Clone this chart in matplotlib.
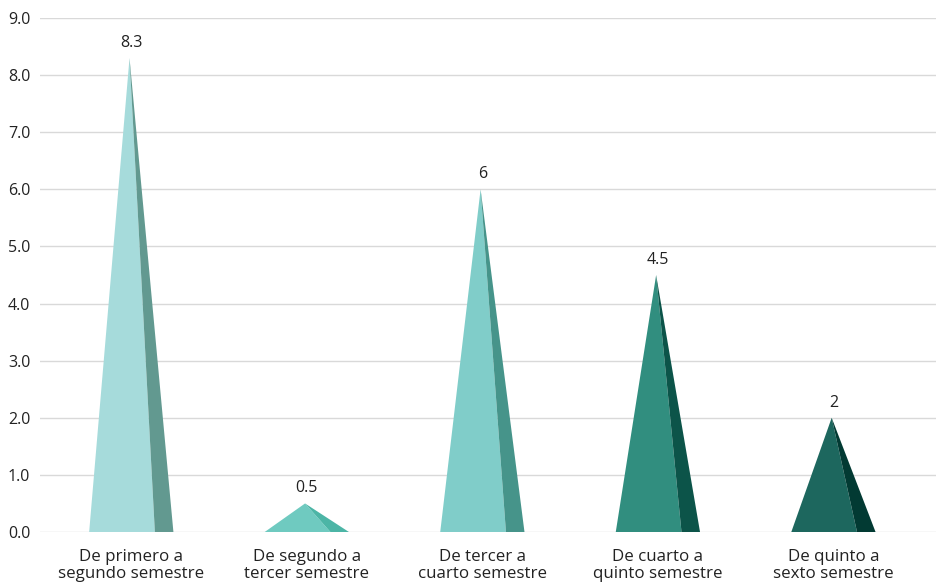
import matplotlib
matplotlib.use("Agg")
import matplotlib.pyplot as plt
from matplotlib.patches import Polygon

categories = ["De primero a\nsegundo semestre", "De segundo a\ntercer semestre",
              "De tercer a\ncuarto semestre", "De cuarto a\nquinto semestre",
              "De quinto a\nsexto semestre"]
values = [8.3, 0.5, 6, 4.5, 2]
value_labels = ["8.3", "0.5", "6", "4.5", "2"]
face_colors = ["#a6dbdb", "#6fcac0", "#80cdc9", "#318e7f", "#1d675e"]
side_colors = ["#629990", "#4cb5a6", "#46948a", "#0c5449", "#023a33"]
yticks = [0, 1, 2, 3, 4, 5, 6, 7, 8, 9]

plt.rcParams["font.family"] = ["Open Sans", "DejaVu Sans"]

fig = plt.figure(figsize=(9.37, 5.85), dpi=100)
ax = fig.add_axes([40 / 937, 53 / 585, 1 - 40 / 937, (532 - 18) / 585])

half = 0.24      # half width of the pyramid base (category units)
split = 0.78     # fraction of the base taken by the lit face

for i, (v, fc, sc, lab) in enumerate(zip(values, face_colors, side_colors, value_labels)):
    left, right = i - half, i + half
    mid = left + split * (right - left)
    apex = (i - 0.01, v)
    ax.add_patch(Polygon([(left, 0), (mid, 0), apex], closed=True,
                         facecolor=fc, edgecolor="none", zorder=3))
    ax.add_patch(Polygon([(mid, 0), (right, 0), apex], closed=True,
                         facecolor=sc, edgecolor="none", zorder=3))
    ax.annotate(lab, xy=(i, v), xytext=(0, 5), textcoords="offset points",
                ha="center", va="bottom", fontsize=11.5, color="#222222")

ax.set_xlim(-0.52, 4.59)
ax.set_ylim(0, 9)
ax.set_yticks(yticks)
ax.set_yticklabels([f"{t:.1f}" for t in yticks], fontsize=11.5, color="#222222")
ax.set_xticks(range(len(categories)))
ax.set_xticklabels(categories, fontsize=12.2, color="#222222", linespacing=1.15)
ax.tick_params(axis="both", length=0)
ax.tick_params(axis="y", pad=7)
ax.tick_params(axis="x", pad=12)
ax.grid(axis="y", color="#d9d9d9", linewidth=1, zorder=0)
ax.set_axisbelow(True)
for s in ax.spines.values():
    s.set_visible(False)

fig.savefig("out.png", dpi=100)
